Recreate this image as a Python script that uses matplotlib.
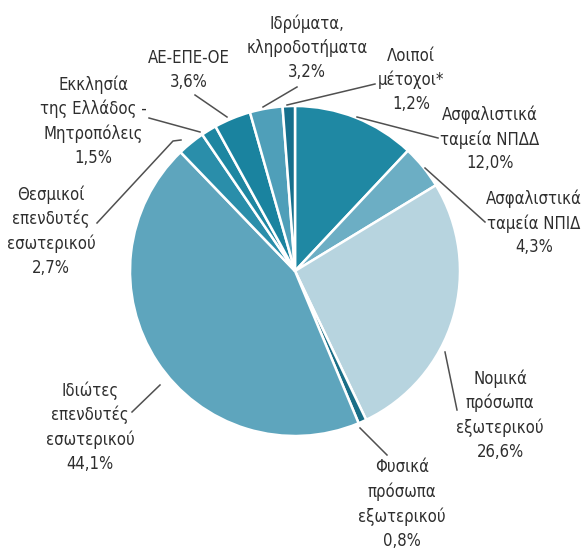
import matplotlib
matplotlib.use('Agg')
import matplotlib.pyplot as plt

plt.rcParams['font.family'] = ['Liberation Sans Narrow', 'DejaVu Sans Condensed', 'DejaVu Sans']
plt.rcParams['font.stretch'] = 'condensed'

# shares in %, clockwise from 12 o'clock
labels = ['Ασφαλιστικά\nταμεία ΝΠΔΔ',
          'Ασφαλιστικά\nταμεία ΝΠΙΔ',
          'Νομικά\nπρόσωπα\nεξωτερικού',
          'Φυσικά\nπρόσωπα\nεξωτερικού',
          'Ιδιώτες\nεπενδυτές\nεσωτερικού',
          'Θεσμικοί\nεπενδυτές\nεσωτερικού',
          'Εκκλησία\nτης Ελλάδος -\nΜητροπόλεις',
          'ΑΕ-ΕΠΕ-ΟΕ',
          'Ιδρύματα,\nκληροδοτήματα',
          'Λοιποί\nμέτοχοι*']
values = [12.0, 4.3, 26.6, 0.8, 44.1, 2.7, 1.5, 3.6, 3.2, 1.2]

colors = ['#1f88a3', '#6caec4', '#b7d4df', '#1a6e87', '#5ea5bd',
          '#2a8eaa', '#1d86a1', '#1a839f', '#4f9fb9', '#166f8c']

# label layout in pixels (x, y from top): text centre and leader polyline
text_pos = [(490, 139), (534, 223), (500, 415), (402, 504), (90, 427),
            (51, 231), (93, 121), (189, 70), (307, 48), (411, 80)]
leaders = [[(357, 117), (438, 138)],
           [(425, 168), (485, 222)],
           [(445, 352), (457, 410)],
           [(360, 428), (387, 455)],
           [(160, 385), (132, 412)],
           [(97, 223), (173, 141), (181, 140)],
           [(149, 118), (200, 132)],
           [(195, 95), (227, 117)],
           [(263, 107), (297, 87)],
           [(287, 105), (375, 84)]]

W, H = 581, 549
fig = plt.figure(figsize=(W / 100, H / 100), dpi=100)
ax = fig.add_axes([0, 0, 1, 1])

ax.pie(values, colors=colors, startangle=90, counterclock=False,
       center=(295, H - 271), radius=165, frame=True,
       wedgeprops=dict(edgecolor='white', linewidth=1.8))
ax.set_xlim(0, W)
ax.set_ylim(0, H)
ax.axis('off')

for i in range(len(values)):
    xs = [p[0] for p in leaders[i]]
    ys = [H - p[1] for p in leaders[i]]
    ax.plot(xs, ys, color='#505050', lw=1.1)
    pct = ('%.1f%%' % values[i]).replace('.', ',')
    tx, ty = text_pos[i]
    ax.text(tx, H - ty, labels[i] + '\n' + pct, ha='center', va='center',
            fontsize=12, color='#2e2e2e', linespacing=1.42)

fig.savefig('out.png', dpi=100)
